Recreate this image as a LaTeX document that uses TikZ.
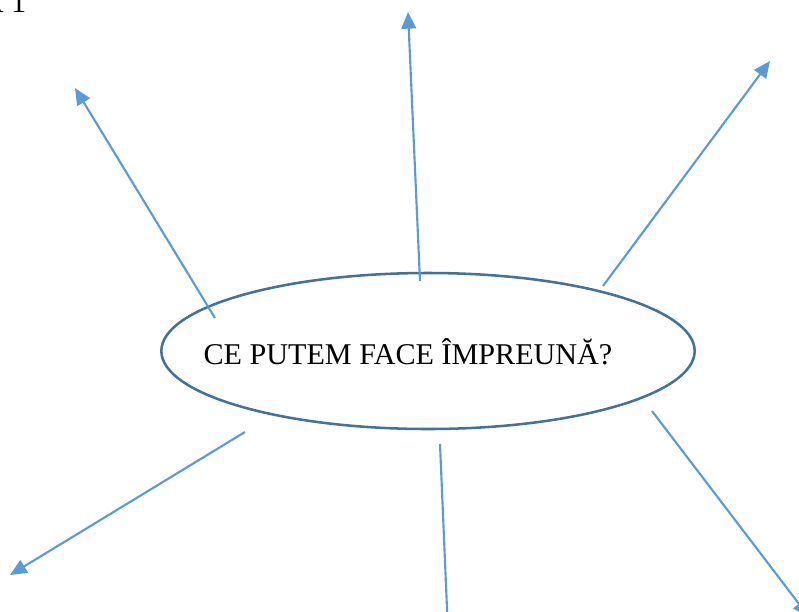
\documentclass[tikz,border=0pt]{standalone}
\usepackage{fontspec}
\setmainfont{Liberation Serif}
\usetikzlibrary{arrows.meta,shapes.geometric}
\definecolor{mapblue}{RGB}{91,155,213}
\definecolor{rimblue}{RGB}{65,113,156}

\begin{document}
\begin{tikzpicture}[
  x=0.75pt, y=-0.75pt,
  every node/.style={font=\fontsize{22.6}{27}\selectfont},
  bubble/.style={draw=rimblue, line width=1.9pt, ellipse, minimum width=400pt,
                 minimum height=117pt, inner sep=0pt},
  arrow/.style={-{Triangle[length=12.5pt,width=11pt]}, line width=1.6pt, mapblue}
]
\useasboundingbox (0,0) rectangle (799,611);
\node[anchor=base east] (title) at (31,12) {A 1};
\node[bubble] (idea) at (428,351) {};
\node (q) at (408,352) {CE PUTEM FACE ÎMPREUNĂ?};
% spokes
\coordinate (s1) at (215,318); \coordinate (e1) at (75,88);
\coordinate (s2) at (420,281); \coordinate (e2) at (408,12);
\coordinate (s3) at (603,286); \coordinate (e3) at (770,61);
\coordinate (s4) at (245,432); \coordinate (e4) at (10,575);
\coordinate (s5) at (440,444); \coordinate (e5) at (448,632);
\coordinate (s6) at (652,411); \coordinate (e6) at (809,617);
\foreach \from/\to in {s1/e1, s2/e2, s3/e3, s4/e4, s5/e5, s6/e6}
  \draw[arrow] (\from) -- (\to);
\end{tikzpicture}
\end{document}
